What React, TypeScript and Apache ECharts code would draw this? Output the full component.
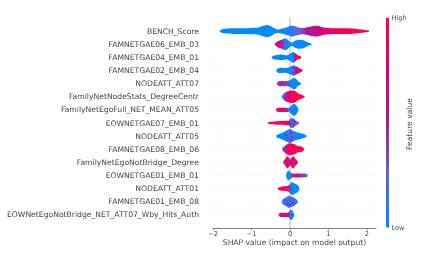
import React, { useEffect, useRef } from "react";
import * as echarts from "echarts";

const features = [
  "BENCH_Score",
  "FAMNETGAE06_EMB_03",
  "FAMNETGAE04_EMB_01",
  "FAMNETGAE02_EMB_04",
  "NODEATT_ATT07",
  "FamilyNetNodeStats_DegreeCentr",
  "FamilyNetEgoFull_NET_MEAN_ATT05",
  "EOWNETGAE07_EMB_01",
  "NODEATT_ATT05",
  "FAMNETGAE08_EMB_06",
  "FamilyNetEgoNotBridge_Degree",
  "EOWNETGAE01_EMB_01",
  "NODEATT_ATT01",
  "FAMNETGAE01_EMB_08",
  "EOWNetEgoNotBridge_NET_ATT07_Wby_Hits_Auth",
];

// Each station: [SHAP value, local density, mean feature value]
const bench = [[-1.82,0.7,0],[-1.74,2.2,0],[-1.5,2.8,0],[-1.25,2.8,0],[-1.0,3.2,0],[-0.82,3.6,0],[-0.7,5,0],[-0.6,6,0],[-0.5,5,0],[-0.42,3,0],[-0.32,1.6,0.02],[-0.2,2.6,0.02],[-0.05,4.2,0.05],[0.05,5.5,0.12],[0.18,4.2,0.22],[0.3,3,0.32],[0.45,3.8,0.5],[0.6,5.2,0.6],[0.72,5.4,0.65],[0.88,3.6,0.75],[1.1,2.8,0.86],[1.3,2.8,0.95],[1.55,2.8,1],[1.8,1.8,1],[2.05,0.5,1]];
const gae06 = [[-0.39,0.8,0.6],[-0.33,2.8,0.65],[-0.22,4.5,0.45],[-0.13,6,0.1],[-0.07,5,0],[0,2.5,0],[0.06,1.8,0],[0.13,3.5,0],[0.22,4.5,0],[0.35,4,0],[0.48,1.5,0],[0.56,0.4,0]];
const gae04 = [[-0.47,0.8,0],[-0.38,2.2,0],[-0.2,2.8,0],[-0.07,2,0],[0.02,4,0],[0.09,5.5,0],[0.14,4,0.6],[0.2,2.2,1],[0.29,0.8,1]];
const gae02 = [[-0.35,1,0],[-0.28,2.6,0],[-0.1,2.4,0],[0.02,4,0],[0.09,5.2,0.1],[0.17,4,0.65],[0.26,2,0.9],[0.33,0.6,1]];
const att07 = [[-0.33,1.2,0.5],[-0.27,2.6,0.4],[-0.08,2.6,0.2],[0.02,3.5,0],[0.08,5.5,0],[0.14,5,0],[0.22,2.2,0],[0.28,0.8,0]];
const degree = [[-0.21,1,0.2],[-0.16,3.2,0.2],[-0.09,5,0.5],[0,6,0.95],[0.12,6,1],[0.22,3.2,1],[0.3,2,1],[0.38,0.6,1]];
const mean05 = [[-0.36,0.8,1],[-0.3,2,0.85],[-0.1,2.2,0.6],[-0.03,1.8,0.2],[0.06,5,0],[0.1,6,0],[0.16,4.5,0],[0.22,0.8,0]];
const eow07 = [[-0.56,1,1],[-0.3,1.8,1],[-0.1,2.2,0.95],[-0.02,2.4,0.5],[0.03,5,0.02],[0.1,4.5,0.02],[0.15,2.6,0.25],[0.23,0.8,0.35]];
const att05 = [[-0.35,1,0],[-0.28,2.2,0],[-0.13,4.6,0],[0.0,7,0.12],[0.09,5,0.08],[0.2,3.6,0],[0.35,2,0],[0.43,0.6,0]];
const gae08 = [[-0.19,1.5,0.5],[-0.13,3.4,0.8],[-0.05,5.6,1],[0.02,6,1],[0.12,5,1],[0.2,3.2,1],[0.3,2.8,1],[0.37,0.6,1]];
const egoDeg = [[-0.17,1.2,1],[-0.13,3.2,1],[-0.07,6,0.95],[-0.02,4,0.8],[0.01,2.5,0.6],[0.05,5,0.85],[0.09,6,1],[0.15,3,1],[0.2,1,1]];
const eow01 = [[-0.1,1,0],[-0.05,5,0],[0.02,3,0],[0.06,1.9,0.5],[0.12,1.8,1],[0.2,2,0.65],[0.3,2,0.4],[0.42,1.8,0.32],[0.46,0.7,0.3]];
const att01 = [[-0.31,0.8,1],[-0.2,2.2,1],[-0.09,2.6,0.9],[-0.03,3.4,0.3],[0.05,6.5,0],[0.12,5,0],[0.2,3.5,0],[0.24,1,0]];
const gae01 = [[-0.21,0.8,0.05],[-0.17,3,0.05],[-0.08,5,0.1],[-0.04,6,0.12],[0.06,5,0.12],[0.14,3.2,0.12],[0.2,1,0.1]];
const hits = [[-0.29,0.8,0.5],[-0.25,2,0.5],[-0.05,2.2,0.55],[0.01,4.5,0.1],[0.05,5,0],[0.09,2.4,0],[0.11,0.6,0]];

const profiles = [bench, gae06, gae04, gae02, att07, degree, mean05, eow07, att05, gae08, egoDeg, eow01, att01, gae01, hits];

// Individual points that stand out from the row's mean colour: [feature index, SHAP, offset, feature value]
const flecks = [
  [1,-0.32,0.5,1],[1,-0.27,-1.5,0.9],[1,-0.24,1.5,1],[1,-0.18,-1,0.8],[1,-0.2,2.5,0.8],
  [2,0.14,1,1],[2,0.2,-0.5,1],[2,0.12,-1.5,0.8],
  [3,0.1,-2.5,1],[3,0.16,-1,0.6],[3,0.24,1,1],[3,0.1,2,0.7],
  [4,-0.26,0.5,1],[4,-0.2,-0.8,0.8],[4,-0.16,0.8,1],[4,-0.09,-1,0.9],[4,-0.04,1,0.8],
  [5,-0.11,-2,0.2],[5,-0.08,2,1],[5,-0.13,1,0.9],[5,-0.06,-1,1],[5,-0.04,3,0.7],
  [6,-0.3,-0.5,1],[6,-0.21,0.6,1],[6,-0.14,0,0.4],[6,-0.08,0.8,0.9],[6,-0.05,-0.8,0.3],
  [7,0.02,1,1],[7,0.1,1.5,1],[7,0.06,-2,0.6],[7,0.13,-1,0.8],
  [8,-0.06,2,0.6],[8,0.03,-3,0.7],[8,-0.1,-1,0.5],[8,0.05,1,0.8],[8,0.02,4,0.6],
  [9,-0.14,-1.5,0],[9,-0.14,1.5,0],[9,0.02,2,0.6],[9,0.06,-2,0.7],
  [10,-0.12,1,0.1],[10,0.09,3,0.3],[10,0.12,-1,0.4],[10,-0.04,-2,0.4],
  [11,0.1,0,1],[11,0.15,0.8,1],
  [12,-0.03,-2,0.9],[12,0.0,1.5,1],[12,-0.01,-0.5,1],
  [13,-0.06,2,0.5],[13,0.02,-2,0.4],[13,0.08,1,0.5],[13,-0.1,-1,0.4],[13,0.0,3,0.5],
  [14,-0.2,0.8,1],[14,-0.15,-0.8,0.95],[14,-0.09,0.6,1],[14,-0.04,-0.8,0.9],[14,0.05,0,0.4],
];

const xTicks = [-2, -1, 0, 1, 2];
const colorStops = ["#008bfb", "#6663dd", "#a81a9e", "#dc0079", "#ff0051"];

const hexToRgb = (h: string) => [1, 3, 5].map((i) => parseInt(h.slice(i, i + 2), 16));
const fvColor = (v: number) => {
  const p = Math.min(0.9999, Math.max(0, v)) * (colorStops.length - 1);
  const i = Math.floor(p);
  const a = hexToRgb(colorStops[i]);
  const b = hexToRgb(colorStops[i + 1]);
  const c = a.map((n, k) => Math.round(n + (b[k] - n) * (p - i)));
  return `rgb(${c[0]},${c[1]},${c[2]})`;
};

const X_MIN = -2;
const X_MAX = 2.235;
const rowOf = (i: number) => features.length - i;

export default function App() {
  const ref = useRef<HTMLDivElement>(null);
  useEffect(() => {
    document.body.style.margin = "0";
    const chart = echarts.init(ref.current!, null, { renderer: "svg" });
    const yCats = ["", ...[...features].reverse(), ""];
    const font = "DejaVu Sans";
    const textColor = "#444";
    chart.setOption({
      animation: false,
      grid: { left: 213, right: 47, top: 18, bottom: 26, outerBoundsMode: "none" },
      xAxis: {
        type: "value",
        min: X_MIN,
        max: X_MAX,
        splitLine: { show: false },
        axisLine: { show: true, onZero: false, lineStyle: { color: "#666", width: 0.8 } },
        axisTick: { show: true, length: 2.5, customValues: xTicks, lineStyle: { color: "#666", width: 0.6 } },
        axisLabel: {
          customValues: xTicks,
          margin: 2.5,
          fontSize: 6.6,
          fontFamily: font,
          color: textColor,
          formatter: (v: number) => String(v).replace("-", "\u2212"),
        },
        name: "SHAP value (impact on model output)",
        nameLocation: "middle",
        nameGap: 10.5,
        nameMoveOverlap: false,
        nameTextStyle: { fontSize: 7.6, fontFamily: font, color: textColor },
      },
      yAxis: {
        type: "category",
        data: yCats,
        boundaryGap: false,
        axisLine: { show: false },
        axisTick: { show: false },
        splitLine: { show: false },
        axisLabel: { interval: 0, margin: 14, fontSize: 7.65, fontFamily: font, color: textColor },
      },
      series: [
        {
          type: "custom",
          z: 1,
          silent: true,
          encode: { x: 0, y: 1 },
          data: features.map((_, i) => [0, rowOf(i)]),
          renderItem: (params: any, api: any) => {
            const y = api.value(1);
            const a = api.coord([X_MIN, y]);
            const b = api.coord([X_MAX, y]);
            return {
              type: "line",
              shape: { x1: a[0], y1: a[1], x2: b[0], y2: b[1] },
              style: { stroke: "#e4e4e4", lineWidth: 0.5, lineDash: [1, 1.5] },
            };
          },
        },
        {
          type: "custom",
          z: 2,
          silent: true,
          encode: { x: 0, y: 1 },
          data: [[0, 0]],
          renderItem: (params: any, api: any) => {
            const a = api.coord([0, 0]);
            const b = api.coord([0, features.length + 1]);
            return {
              type: "line",
              shape: { x1: a[0], y1: a[1], x2: b[0], y2: b[1] },
              style: { stroke: "#b5b5b5", lineWidth: 1 },
            };
          },
        },
        {
          type: "custom",
          z: 3,
          silent: true,
          encode: { x: 0, y: 1 },
          data: features.map((_, i) => [0, rowOf(i)]),
          renderItem: (params: any, api: any) => {
            const prof = profiles[params.dataIndex];
            const y = api.value(1);
            const unit = Math.abs(api.size([0, 1])[1]) / 13.1;
            const top = prof.map((s) => {
              const c = api.coord([s[0], y]);
              return [c[0], c[1] - s[1] * unit];
            });
            const bot = prof.map((s) => {
              const c = api.coord([s[0], y]);
              return [c[0], c[1] + s[1] * unit];
            }).reverse();
            const lo = prof[0][0];
            const hi = prof[prof.length - 1][0];
            const stops = prof.map((s) => ({ offset: (s[0] - lo) / (hi - lo), color: fvColor(s[2]) }));
            return {
              type: "polygon",
              shape: { points: [...top, ...bot], smooth: 0.2 },
              style: { fill: new echarts.graphic.LinearGradient(0, 0, 1, 0, stops) },
            };
          },
        },
        {
          type: "custom",
          z: 4,
          silent: true,
          encode: { x: 0, y: 1 },
          data: flecks.map((f) => [f[1], rowOf(f[0])]),
          renderItem: (params: any, api: any) => {
            const f = flecks[params.dataIndex];
            const c = api.coord([api.value(0), api.value(1)]);
            return {
              type: "circle",
              shape: { cx: c[0], cy: c[1] + f[2], r: 1.1 },
              style: { fill: fvColor(f[3]) },
            };
          },
        },
      ],
      graphic: [
        {
          type: "rect",
          shape: { x: 386, y: 18, width: 3, height: 209.5 },
          style: {
            fill: new echarts.graphic.LinearGradient(0, 1, 0, 0,
              colorStops.map((color, i) => ({ offset: i / (colorStops.length - 1), color }))),
          },
        },
        { type: "text", x: 391.5, y: 18, style: { text: "High", fontSize: 6.6, fontFamily: font, fill: textColor, verticalAlign: "middle" } },
        { type: "text", x: 391.5, y: 227.5, style: { text: "Low", fontSize: 6.6, fontFamily: font, fill: textColor, verticalAlign: "middle" } },
        {
          type: "text",
          x: 409,
          y: 124,
          rotation: Math.PI / 2,
          style: { text: "Feature value", fontSize: 7.6, fontFamily: font, fill: textColor, align: "center", verticalAlign: "middle" },
        },
      ],
    });
    return () => chart.dispose();
  }, []);
  return (
    <div
      ref={ref}
      style={{ position: "absolute", left: 0, top: 0, width: 423, height: 254, filter: "blur(0.6px)" }}
    />
  );
}
